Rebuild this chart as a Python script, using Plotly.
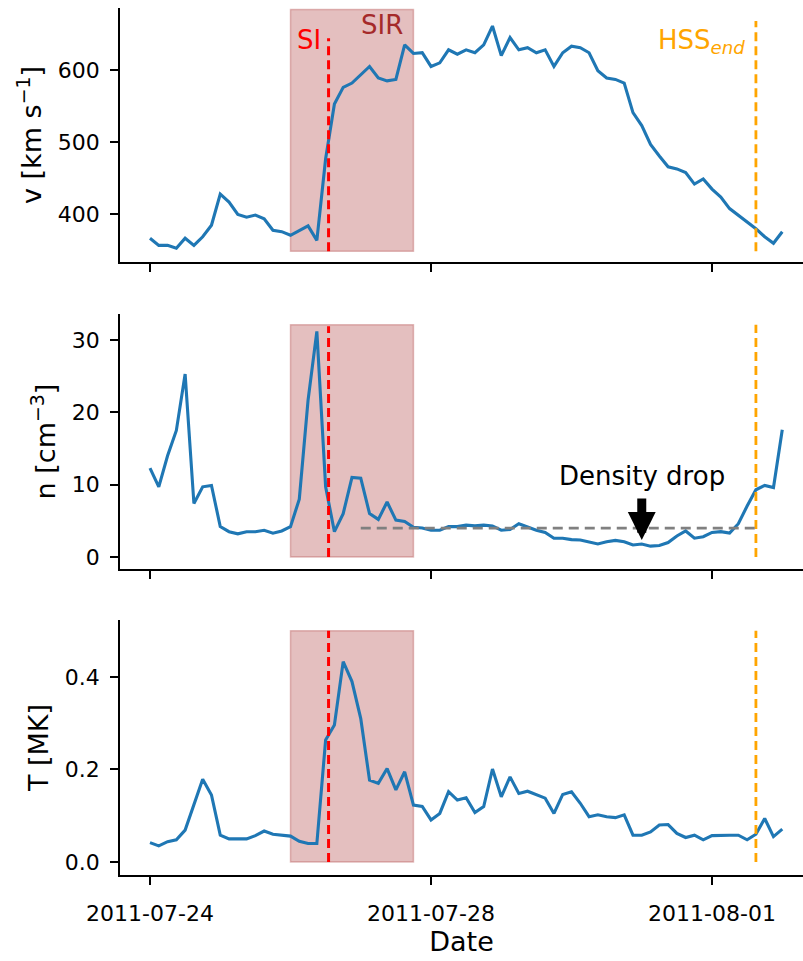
import pandas as pd
import plotly.graph_objects as go

# ---------------- data (3-hourly samples) ----------------
start_time = "2011-07-24 00:00"
step = "3h"
velocity = [367, 357, 357, 353, 367, 357, 369, 385, 428, 417,
            400, 396, 399, 394, 378, 376, 371, 378, 384, 364,
            477, 553, 576, 582, 594, 605, 589, 585, 587, 635,
            623, 624, 605, 610, 628, 622,
            628, 624, 635, 661, 620, 645, 628, 631, 624, 628,
            605, 624, 633, 631, 624, 599, 589, 587, 582, 541,
            523, 497, 481, 466, 463, 458, 442, 449, 435, 424,
            408, 399, 389, 380, 369, 360, 376]
density = [12.3, 9.7, 14.0, 17.5, 25.3, 7.4, 9.7, 9.9, 4.2, 3.5,
           3.2, 3.5, 3.5, 3.7, 3.3, 3.6, 4.2, 8.0, 21.7, 31.2,
           9.7, 3.5, 6.0, 11.0, 10.9, 6.0, 5.2, 7.6, 5.1, 4.9,
           4.1, 4.0, 3.7, 3.7, 4.2, 4.2,
           4.4, 4.3, 4.4, 4.3, 3.7, 3.8, 4.6, 4.1, 3.7, 3.4,
           2.6, 2.6, 2.4, 2.35, 2.1, 1.8, 2.1, 2.3, 2.1, 1.66,
           1.8, 1.5, 1.6, 2.0, 2.9, 3.6, 2.6, 2.8, 3.4, 3.5,
           3.3, 4.6, 7.05, 9.3, 9.9, 9.6, 17.6]
temperature = [0.042, 0.035, 0.044, 0.048, 0.069, 0.123, 0.179, 0.145, 0.058, 0.050,
               0.050, 0.050, 0.057, 0.067, 0.060, 0.058, 0.056, 0.045, 0.040, 0.040,
               0.264, 0.296, 0.433, 0.390, 0.310, 0.177, 0.170, 0.202, 0.156, 0.195,
               0.123, 0.120, 0.091, 0.105, 0.152, 0.134,
               0.139, 0.107, 0.120, 0.201, 0.141, 0.184, 0.148, 0.153, 0.145, 0.138,
               0.105, 0.146, 0.152, 0.127, 0.098, 0.102, 0.098, 0.096, 0.102, 0.058,
               0.058, 0.065, 0.080, 0.081, 0.062, 0.053, 0.058, 0.048, 0.057, 0.058,
               0.058, 0.058, 0.048, 0.060, 0.094, 0.055, 0.071]

sir_start = "2011-07-26 00:00"
sir_end = "2011-07-27 18:00"
si_time = "2011-07-26 13:00"
hss_end = "2011-08-01 15:00"
drop_ref_start = "2011-07-27 00:00"
drop_ref_level = 4.0
drop_time = "2011-07-31 00:00"
drop_value = 2.35

tick_labels = ["2011-07-24", "2011-07-28", "2011-08-01"]
x_range = ["2011-07-23 13:45", "2011-08-02 07:05"]

v_range = [334, 686]
n_range = [-1.66, 33.6]
t_range = [-0.028, 0.523]
v_ticks = [400, 500, 600]
n_ticks = [0, 10, 20, 30]
t_ticks = [0.0, 0.2, 0.4]

# spans (rect y-extent, red line y-extent, orange line y-extent) per panel
v_rect = [349, 684]; v_si = [349, 644]; v_hss = [349, 668]
n_rect = [0, 32.1]; n_si = [0, 31.9]; n_hss = [0, 32.1]
t_rect = [0, 0.5]; t_si = [0, 0.5]; t_hss = [0, 0.5]

times = pd.date_range(start=start_time, periods=len(velocity), freq=step)

BLUE = "#1f77b4"
FONT = "DejaVu Sans"

fig = go.Figure()
for vals, xa, ya in [(velocity, "x", "y"), (density, "x2", "y2"), (temperature, "x3", "y3")]:
    fig.add_trace(go.Scatter(x=times, y=vals, mode="lines",
                             line=dict(color=BLUE, width=3.1),
                             xaxis=xa, yaxis=ya, showlegend=False, hoverinfo="skip"))

shapes = []
panels = [("x", "y", v_rect, v_si, v_hss),
          ("x2", "y2", n_rect, n_si, n_hss),
          ("x3", "y3", t_rect, t_si, t_hss)]
for xa, ya, rect, si, hs in panels:
    shapes.append(dict(type="rect", xref=xa, yref=ya, x0=sir_start, x1=sir_end,
                       y0=rect[0], y1=rect[1], fillcolor="rgba(165,42,42,0.3)",
                       line=dict(color="rgba(165,42,42,0.3)", width=1.5), layer="below"))
    shapes.append(dict(type="line", xref=xa, yref=ya, x0=si_time, x1=si_time,
                       y0=si[0], y1=si[1], line=dict(color="red", width=3, dash="9px,5px"),
                       layer="above"))
    shapes.append(dict(type="line", xref=xa, yref=ya, x0=hss_end, x1=hss_end,
                       y0=hs[0], y1=hs[1], line=dict(color="orange", width=2.8, dash="9px,5px"),
                       layer="above"))
shapes.append(dict(type="line", xref="x2", yref="y2", x0=drop_ref_start, x1=hss_end,
                   y0=drop_ref_level, y1=drop_ref_level,
                   line=dict(color="gray", width=2.8, dash="10px,6px"), layer="above"))

annotations = [
    dict(xref="x", yref="y", x=si_time, y=641, text="SI", showarrow=False,
         xanchor="right", yanchor="middle", xshift=-6,
         font=dict(family=FONT, size=26, color="red")),
    dict(xref="x", yref="y", x=sir_end, y=662, text="SIR", showarrow=False,
         xanchor="right", yanchor="middle", xshift=-8,
         font=dict(family=FONT, size=26, color="#a52a2a")),
    dict(xref="x", yref="y", x=hss_end, y=640, text="HSS<sub><i>end</i></sub>", showarrow=False,
         xanchor="right", yanchor="middle", xshift=-9,
         font=dict(family=FONT, size=26, color="orange")),
    dict(xref="x2", yref="y2", x=drop_time, y=11.2, text="Density drop", showarrow=False,
         xanchor="center", yanchor="middle",
         font=dict(family=FONT, size=26, color="black")),
    dict(xref="x2", yref="y2", x=drop_time, y=drop_value, text="", showarrow=True,
         ax=0, ay=-43, arrowhead=2, arrowwidth=9, arrowsize=0.62, arrowcolor="black"),
]

axis_common = dict(showline=True, linecolor="black", linewidth=1.6, showgrid=False,
                   zeroline=False, ticks="outside", ticklen=8, tickwidth=1.6,
                   tickcolor="black", tickfont=dict(family=FONT, size=22, color="black"))

top_dom = [(875 - 262) / 867, 1.0]
mid_dom = [(875 - 569) / 867, (875 - 314) / 867]
bot_dom = [0.0, (875 - 620) / 867]

title_font = dict(family=FONT, size=27, color="black")

fig.update_layout(
    width=803, height=961,
    margin=dict(l=120, r=0, t=8, b=86),
    paper_bgcolor="white", plot_bgcolor="white",
    showlegend=False,
    shapes=shapes, annotations=annotations,
    xaxis=dict(axis_common, anchor="y", range=x_range, tickvals=tick_labels,
               showticklabels=False),
    xaxis2=dict(axis_common, anchor="y2", range=x_range, tickvals=tick_labels,
                showticklabels=False, matches="x"),
    xaxis3=dict(axis_common, anchor="y3", range=x_range, tickvals=tick_labels,
                ticktext=tick_labels, ticklabelstandoff=10, matches="x",
                title=dict(text="Date", font=title_font, standoff=6)),
    yaxis=dict(axis_common, anchor="x", domain=top_dom, range=v_range, tickvals=v_ticks,
               ticklabelstandoff=6,
               title=dict(text="v [km s<sup>−1</sup>]", font=title_font, standoff=8)),
    yaxis2=dict(axis_common, anchor="x2", domain=mid_dom, range=n_range, tickvals=n_ticks,
                ticklabelstandoff=6,
                title=dict(text="n [cm<sup>−3</sup>]", font=title_font, standoff=8)),
    yaxis3=dict(axis_common, anchor="x3", domain=bot_dom, range=t_range, tickvals=t_ticks,
                ticktext=["0.0", "0.2", "0.4"], ticklabelstandoff=6,
                title=dict(text="T [MK]", font=title_font, standoff=8)),
)

fig.write_html("out.html")
